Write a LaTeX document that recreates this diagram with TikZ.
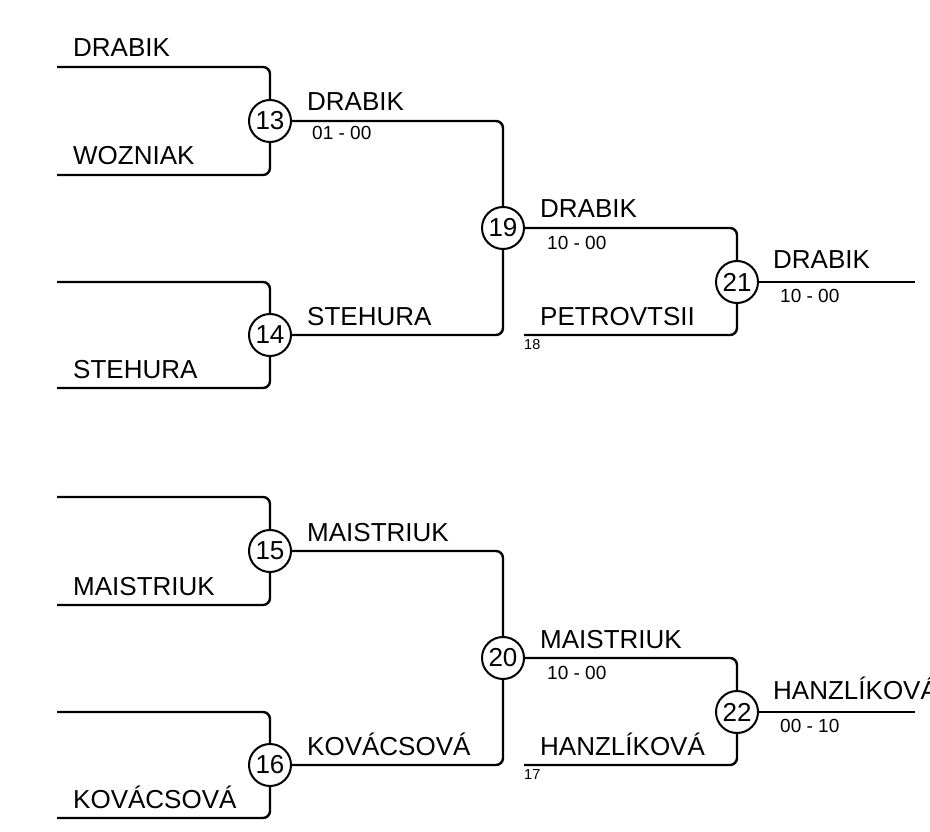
\documentclass[tikz,border=0pt]{standalone}
\usepackage{fontspec}
\setmainfont{Liberation Sans}
\usepackage{tikz}
\usetikzlibrary{positioning}

\newcommand{\plfont}{\fontsize{26}{30}\selectfont}
\newcommand{\scfont}{\fontsize{19}{22}\selectfont}
\newcommand{\sdfont}{\fontsize{14.5}{16}\selectfont}

\begin{document}
\begin{tikzpicture}[
  x=1pt, y=-1pt,
  wire/.style={line width=2.4pt, rounded corners=7pt},
  bout/.style={circle, draw, line width=2pt, minimum size=42pt, inner sep=0pt, font=\plfont},
  player/.style={anchor=base west, inner sep=0pt, font=\plfont},
  score/.style={anchor=base west, inner sep=0pt, font=\scfont},
  seed/.style={anchor=north west, inner sep=0pt, font=\sdfont}
]
\useasboundingbox (0,0) rectangle (930,832);
\clip (0,0) rectangle (930,832);

% bouts
\node[bout] (m13) at (270,121) {13};
\node[bout] (m14) at (270,335) {14};
\node[bout] (m19) at (503,228) {19};
\node[bout] (m21) at (737,282) {21};
\node[bout] (m15) at (270,551) {15};
\node[bout] (m16) at (270,765) {16};
\node[bout] (m20) at (503,658) {20};
\node[bout] (m22) at (737,712) {22};

% free ends
\coordinate (e13a) at (57,67);
\coordinate (e13b) at (57,175);
\coordinate (e14a) at (57,282);
\coordinate (e14b) at (57,388);
\coordinate (e15a) at (57,497);
\coordinate (e15b) at (57,605);
\coordinate (e16a) at (57,712);
\coordinate (e16b) at (57,818);
\coordinate (e21b) at (524,335);
\coordinate (e22b) at (524,765);
\coordinate (w21) at (915,282);
\coordinate (w22) at (915,712);

% upper half
\draw[wire] (e13a) -| (m13);
\draw[wire] (e13b) -| (m13);
\draw[wire] (e14a) -| (m14);
\draw[wire] (e14b) -| (m14);
\draw[wire] (m13) -| (m19);
\draw[wire] (m14) -| (m19);
\draw[wire] (m19) -| (m21);
\draw[wire] (e21b) -| (m21);
\draw[wire] (m21) -- (w21);

% lower half
\draw[wire] (e15a) -| (m15);
\draw[wire] (e15b) -| (m15);
\draw[wire] (e16a) -| (m16);
\draw[wire] (e16b) -| (m16);
\draw[wire] (m15) -| (m20);
\draw[wire] (m16) -| (m20);
\draw[wire] (m20) -| (m22);
\draw[wire] (e22b) -| (m22);
\draw[wire] (m22) -- (w22);

% names and results
\node[player] (p13a) at (73,57) {DRABIK};
\node[player] (p13b) at (73,165) {WOZNIAK};
\node[player] (p14b) at (73,378) {STEHURA};
\node[player] (p13) at (307,111) {DRABIK};
\node[score] (r13) at (312,140) {01 - 00};
\node[player] (p14) at (307,325) {STEHURA};
\node[player] (p19) at (540,218) {DRABIK};
\node[score] (r19) at (547,249) {10 - 00};
\node[player] (p21b) at (540,325) {PETROVTSII};
\node[seed] (s18) at (524,339) {18};
\node[player] (p21) at (773,269) {DRABIK};
\node[score] (r21) at (780,302) {10 - 00};

\node[player] (p15b) at (73,595) {MAISTRIUK};
\node[player] (p16b) at (73,808) {KOVÁCSOVÁ};
\node[player] (p15) at (307,541) {MAISTRIUK};
\node[player] (p16) at (307,755) {KOVÁCSOVÁ};
\node[player] (p20) at (540,648) {MAISTRIUK};
\node[score] (r20) at (547,679) {10 - 00};
\node[player] (p22b) at (540,755) {HANZLÍKOVÁ};
\node[seed] (s17) at (524,769) {17};
\node[player] (p22) at (773,699) {HANZLÍKOVÁ};
\node[score] (r22) at (780,732) {00 - 10};
\end{tikzpicture}
\end{document}
